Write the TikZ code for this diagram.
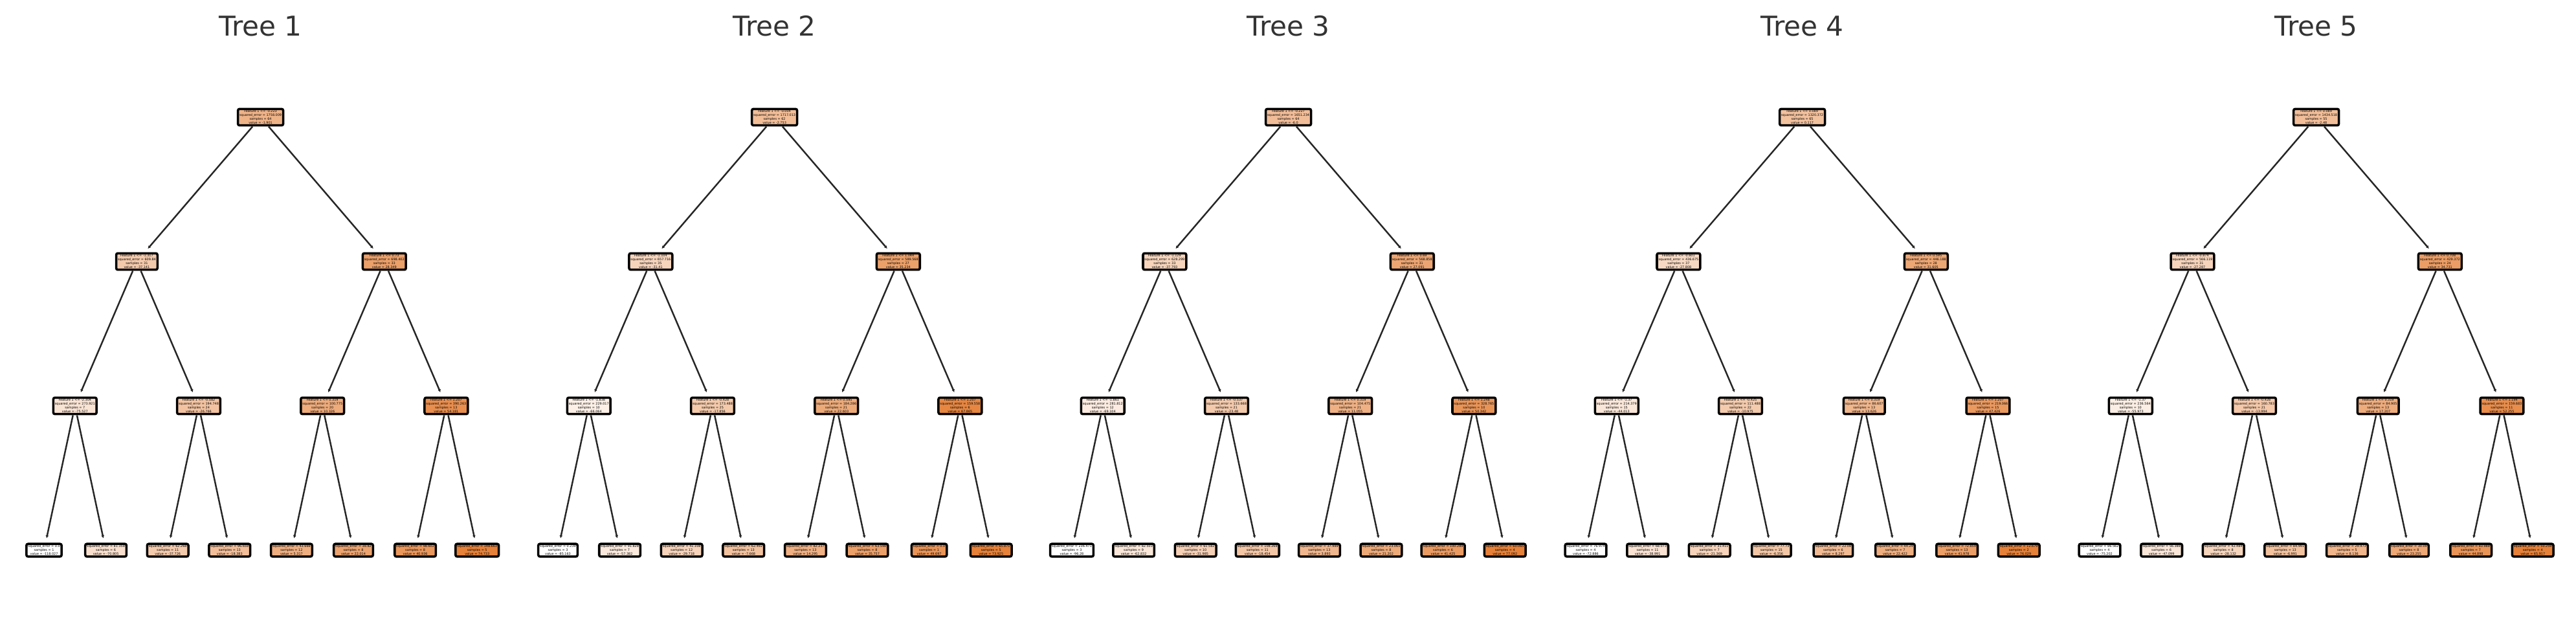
\documentclass[tikz,border=0pt]{standalone}
\usepackage{fontspec}
\setmainfont{DejaVu Sans}
\usepackage{xcolor}
\usepackage{tikz}
\usetikzlibrary{arrows.meta}
\definecolor{orng}{RGB}{229,129,57}
\newcommand{\splittext}[4]{Feature 1 <= #1\\squared\_error = #2\\samples = #3\\value = #4}
\newcommand{\leaftext}[3]{squared\_error = #1\\samples = #2\\value = #3}

\begin{document}
\begin{tikzpicture}[
  tbox/.style={draw=black, line width=1pt, rounded corners=0.025cm, fill=orng!#1!white,
    align=center, inner xsep=0.025cm, inner ysep=0.02cm, font=\fontsize{1.4}{1.68}\selectfont},
  tedge/.style={-{Latex[length=0.045cm,width=0.05cm]}, shorten >=0.07cm, black!85, line width=0.7pt},
  ttitle/.style={anchor=base, font=\fontsize{12}{14}\selectfont, text=black!80}]
\useasboundingbox (0,0) rectangle (39.8,9.8);
% Tree 1
\begin{scope}[xshift=0cm, name prefix=t1-]
\node[ttitle] (title) at (4.026,9.25) {Tree 1};
\node[tbox=60.2] (root) at (4.026,7.99) {\splittext{-0.223}{1758.009}{64}{-1.901}};
\node[tbox=42.0] (l) at (2.114,5.76) {\splittext{-1.317}{609.84}{31}{-37.141}};
\node[tbox=75.9] (r) at (5.938,5.76) {\splittext{0.73}{698.402}{33}{28.349}};
\node[tbox=22.0] (ll) at (1.158,3.53) {\splittext{-2.304}{273.921}{7}{-75.527}};
\node[tbox=47.3] (lr) at (3.070,3.53) {\splittext{-0.582}{194.748}{24}{-26.766}};
\node[tbox=66.6] (rl) at (4.982,3.53) {\splittext{0.319}{100.775}{20}{10.326}};
\node[tbox=89.3] (rr) at (6.894,3.53) {\splittext{1.207}{390.263}{13}{54.181}};
\node[tbox=0] (lll) at (0.680,1.30) {\leaftext{0.0}{1}{-118.027}};
\node[tbox=24.5] (llr) at (1.636,1.30) {\leaftext{81.358}{6}{-70.805}};
\node[tbox=41.7] (lrl) at (2.592,1.30) {\leaftext{62.268}{11}{-37.726}};
\node[tbox=51.7] (lrr) at (3.548,1.30) {\leaftext{96.658}{13}{-18.383}};
\node[tbox=64.0] (rll) at (4.504,1.30) {\leaftext{43.666}{12}{5.317}};
\node[tbox=72.7] (rlr) at (5.460,1.30) {\leaftext{38.82}{8}{22.014}};
\node[tbox=82.5] (rrl) at (6.416,1.30) {\leaftext{98.602}{8}{40.936}};
\node[tbox=100] (rrr) at (7.372,1.30) {\leaftext{148.663}{5}{74.733}};
\draw[tedge] (root) edge (l) edge (r)
  (l) edge (ll) edge (lr) (r) edge (rl) edge (rr)
  (ll) edge (lll) edge (llr) (lr) edge (lrl) edge (lrr)
  (rl) edge (rll) edge (rlr) (rr) edge (rrl) edge (rrr);
\end{scope}
% Tree 2
\begin{scope}[xshift=7.94cm, name prefix=t2-]
\node[ttitle] (title) at (4.026,9.25) {Tree 2};
\node[tbox=51.8] (root) at (4.026,7.99) {\splittext{-0.004}{1717.013}{62}{-2.753}};
\node[tbox=33.8] (l) at (2.114,5.76) {\splittext{-1.104}{657.716}{35}{-31.41}};
\node[tbox=75.7] (r) at (5.938,5.76) {\splittext{1.044}{589.568}{27}{35.234}};
\node[tbox=12.0] (ll) at (1.158,3.53) {\splittext{-1.838}{229.017}{10}{-66.064}};
\node[tbox=42.3] (lr) at (3.070,3.53) {\splittext{-0.428}{173.488}{25}{-17.856}};
\node[tbox=67.7] (rl) at (4.982,3.53) {\splittext{0.595}{184.286}{21}{22.603}};
\node[tbox=96.2] (rr) at (6.894,3.53) {\splittext{1.207}{159.558}{6}{67.865}};
\node[tbox=0] (lll) at (0.680,1.30) {\leaftext{0.239}{3}{-85.163}};
\node[tbox=17.5] (llr) at (1.636,1.30) {\leaftext{91.828}{7}{-57.382}};
\node[tbox=34.9] (lrl) at (2.592,1.30) {\leaftext{41.108}{12}{-29.718}};
\node[tbox=48.7] (lrr) at (3.548,1.30) {\leaftext{62.492}{13}{-7.668}};
\node[tbox=62.5] (rll) at (4.504,1.30) {\leaftext{82.237}{13}{14.295}};
\node[tbox=76.0] (rlr) at (5.460,1.30) {\leaftext{63.598}{8}{35.757}};
\node[tbox=84.8] (rrl) at (6.416,1.30) {\leaftext{0.0}{1}{49.697}};
\node[tbox=100] (rrr) at (7.372,1.30) {\leaftext{65.871}{5}{73.925}};
\draw[tedge] (root) edge (l) edge (r)
  (l) edge (ll) edge (lr) (r) edge (rl) edge (rr)
  (ll) edge (lll) edge (llr) (lr) edge (lrl) edge (lrr)
  (rl) edge (rll) edge (rlr) (rr) edge (rrl) edge (rrr);
\end{scope}
% Tree 3
\begin{scope}[xshift=15.88cm, name prefix=t3-]
\node[ttitle] (title) at (4.026,9.25) {Tree 3};
\node[tbox=52.1] (root) at (4.026,7.99) {\splittext{-0.227}{1651.234}{64}{-6.0}};
\node[tbox=33.7] (l) at (2.114,5.76) {\splittext{-1.129}{628.299}{33}{-37.793}};
\node[tbox=71.2] (r) at (5.938,5.76) {\splittext{0.69}{568.858}{31}{27.091}};
\node[tbox=15.7] (ll) at (1.158,3.53) {\splittext{-1.861}{281.812}{12}{-69.104}};
\node[tbox=42.0] (lr) at (3.070,3.53) {\splittext{-0.537}{133.668}{21}{-23.48}};
\node[tbox=61.9] (rl) at (4.982,3.53) {\splittext{0.319}{104.475}{21}{11.055}};
\node[tbox=84.6] (rr) at (6.894,3.53) {\splittext{1.248}{328.765}{10}{50.342}};
\node[tbox=0] (lll) at (0.680,1.30) {\leaftext{236.471}{3}{-96.28}};
\node[tbox=19.3] (llr) at (1.636,1.30) {\leaftext{82.503}{9}{-62.832}};
\node[tbox=37.1] (lrl) at (2.592,1.30) {\leaftext{61.582}{10}{-31.985}};
\node[tbox=44.9] (lrr) at (3.548,1.30) {\leaftext{108.268}{11}{-18.454}};
\node[tbox=57.8] (rll) at (4.504,1.30) {\leaftext{37.989}{13}{3.893}};
\node[tbox=67.8] (rlr) at (5.460,1.30) {\leaftext{23.061}{8}{21.202}};
\node[tbox=79.4] (rrl) at (6.416,1.30) {\leaftext{100.289}{6}{41.425}};
\node[tbox=100] (rrr) at (7.372,1.30) {\leaftext{60.065}{4}{77.092}};
\draw[tedge] (root) edge (l) edge (r)
  (l) edge (ll) edge (lr) (r) edge (rl) edge (rr)
  (ll) edge (lll) edge (llr) (lr) edge (lrl) edge (lrr)
  (rl) edge (rll) edge (rlr) (rr) edge (rrl) edge (rrr);
\end{scope}
% Tree 4
\begin{scope}[xshift=23.82cm, name prefix=t4-]
\node[ttitle] (title) at (4.026,9.25) {Tree 4};
\node[tbox=49.0] (root) at (4.026,7.99) {\splittext{0.089}{1320.372}{65}{0.117}};
\node[tbox=30.3] (l) at (2.114,5.76) {\splittext{-0.601}{436.675}{37}{-27.808}};
\node[tbox=70.2] (r) at (5.938,5.76) {\splittext{0.595}{446.188}{28}{31.605}};
\node[tbox=19.4] (ll) at (1.158,3.53) {\splittext{-1.37}{214.379}{15}{-44.013}};
\node[tbox=41.6] (lr) at (3.070,3.53) {\splittext{-0.425}{111.488}{22}{-10.975}};
\node[tbox=58.1] (rl) at (4.982,3.53) {\splittext{0.319}{86.607}{13}{13.626}};
\node[tbox=80.8] (rr) at (6.894,3.53) {\splittext{1.207}{219.066}{15}{47.426}};
\node[tbox=0] (lll) at (0.680,1.30) {\leaftext{76.974}{4}{-72.886}};
\node[tbox=22.8] (llr) at (1.636,1.30) {\leaftext{68.073}{11}{-38.991}};
\node[tbox=34.6] (lrl) at (2.592,1.30) {\leaftext{31.411}{7}{-21.369}};
\node[tbox=44.7] (lrr) at (3.548,1.30) {\leaftext{77.73}{15}{-6.356}};
\node[tbox=54.5] (rll) at (4.504,1.30) {\leaftext{22.08}{6}{8.297}};
\node[tbox=64.0] (rlr) at (5.460,1.30) {\leaftext{44.24}{7}{22.422}};
\node[tbox=77.1] (rrl) at (6.416,1.30) {\leaftext{72.859}{13}{41.978}};
\node[tbox=100] (rrr) at (7.372,1.30) {\leaftext{12.679}{2}{76.029}};
\draw[tedge] (root) edge (l) edge (r)
  (l) edge (ll) edge (lr) (r) edge (rl) edge (rr)
  (ll) edge (lll) edge (llr) (lr) edge (lrl) edge (lrr)
  (rl) edge (rll) edge (rlr) (rr) edge (rrl) edge (rrr);
\end{scope}
% Tree 5
\begin{scope}[xshift=31.76cm, name prefix=t5-]
\node[ttitle] (title) at (4.026,9.25) {Tree 5};
\node[tbox=51.5] (root) at (4.026,7.99) {\splittext{0.089}{1434.518}{55}{-2.48}};
\node[tbox=34.0] (l) at (2.114,5.76) {\splittext{-0.874}{566.119}{31}{-27.287}};
\node[tbox=77.9] (r) at (5.938,5.76) {\splittext{0.708}{429.372}{24}{34.731}};
\node[tbox=13.6] (ll) at (1.158,3.53) {\splittext{-1.37}{236.564}{10}{-55.973}};
\node[tbox=43.4] (lr) at (3.070,3.53) {\splittext{-0.428}{160.783}{21}{-13.994}};
\node[tbox=65.5] (rl) at (4.982,3.53) {\splittext{0.319}{84.905}{13}{17.207}};
\node[tbox=90.3] (rr) at (6.894,3.53) {\splittext{1.194}{159.683}{11}{52.255}};
\node[tbox=0] (lll) at (0.680,1.30) {\leaftext{86.562}{4}{-75.202}};
\node[tbox=19.9] (llr) at (1.636,1.30) {\leaftext{56.388}{6}{-47.099}};
\node[tbox=33.4] (lrl) at (2.592,1.30) {\leaftext{42.484}{8}{-28.132}};
\node[tbox=48.3] (lrr) at (3.548,1.30) {\leaftext{84.991}{13}{-6.991}};
\node[tbox=59.1] (rll) at (4.504,1.30) {\leaftext{29.973}{5}{8.136}};
\node[tbox=69.8] (rlr) at (5.460,1.30) {\leaftext{30.09}{8}{23.255}};
\node[tbox=85.1] (rrl) at (6.416,1.30) {\leaftext{83.988}{7}{44.898}};
\node[tbox=100] (rrr) at (7.372,1.30) {\leaftext{50.259}{4}{65.917}};
\draw[tedge] (root) edge (l) edge (r)
  (l) edge (ll) edge (lr) (r) edge (rl) edge (rr)
  (ll) edge (lll) edge (llr) (lr) edge (lrl) edge (lrr)
  (rl) edge (rll) edge (rlr) (rr) edge (rrl) edge (rrr);
\end{scope}
\end{tikzpicture}
\end{document}
